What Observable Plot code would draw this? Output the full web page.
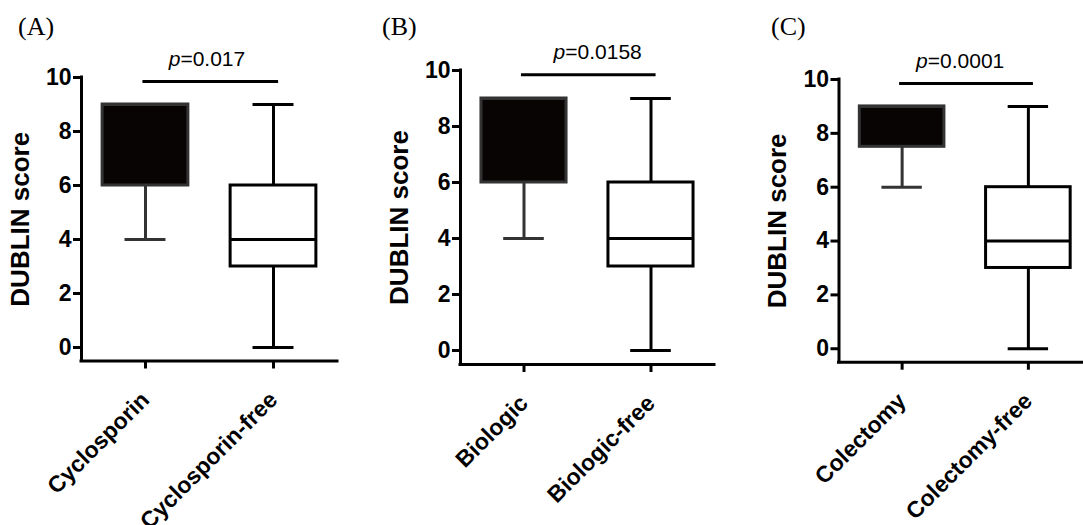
<!DOCTYPE html>
<html><head><meta charset="utf-8">
<script src="https://cdn.jsdelivr.net/npm/d3@7"></script>
<script src="https://cdn.jsdelivr.net/npm/@observablehq/plot@0.6"></script>
<style>
html,body{margin:0;padding:0;background:#fff;}
#wrap{position:relative;width:1083px;height:525px;overflow:hidden;background:#fff;}
.panel{position:absolute;top:0;}
.panel svg{max-width:none !important;}
.tag{position:absolute;font-family:"Liberation Serif","Times New Roman",serif;font-size:26px;line-height:1;color:#000;}
.panel svg g[aria-label^="x-axis"] line, .panel svg g[aria-label^="x-axis"] path,
.panel svg g[aria-label^="y-axis"] line, .panel svg g[aria-label^="y-axis"] path {stroke-width:3px;}
.panel svg g[aria-label="y-axis label"] text {font-size:26px;}
</style>
</head><body><div id="wrap"></div>
<script>
// ---- data ----
const panelTags = ["(A)", "(B)", "(C)"];
const groupsA = ["Cyclosporin", "Cyclosporin-free"];
const groupsB = ["Biologic", "Biologic-free"];
const groupsC = ["Colectomy", "Colectomy-free"];
// five-number summaries per group (min, q1, median, q3, max)
const minA = [4, 0], q1A = [6, 3], medA = [9, 4], q3A = [9, 6], maxA = [9, 9];
const minB = [4, 0], q1B = [6, 3], medB = [9, 4], q3B = [9, 6], maxB = [9, 9];
const minC = [6, 0], q1C = [7.5, 3], medC = [9, 4], q3C = [9, 6], maxC = [9, 9];
const pLabels = ["p=0.017", "p=0.0158", "p=0.0001"];
const pLabelX = [0.48, 0.58, 0.46];
const sigY = [9.85, 9.85, 9.85];
const sigX1 = [-0.02, -0.02, -0.02];
const sigX2 = [1.04, 1.04, 1.04];
const yTicks = [0, 2, 4, 6, 8, 10];
const yLabel = "DUBLIN score";

// ---- layout / style ----
const BOX = 0.335, CAP = 0.16, SW = 3;
const layouts = [
  {left: 0,   width: 360, ml: 81,    mr: 23, mt: 77, mb: 164.5, tag: 18},
  {left: 360, width: 360, ml: 100,   mr: 6,  mt: 70, mb: 161,   tag: 382},
  {left: 720, width: 380, ml: 118.5, mr: 9,  mt: 79, mb: 163.3, tag: 771}
];
const panels = [
  {groups: groupsA, min: minA, q1: q1A, med: medA, q3: q3A, max: maxA},
  {groups: groupsB, min: minB, q1: q1B, med: medB, q3: q3B, max: maxB},
  {groups: groupsC, min: minC, q1: q1C, med: medC, q3: q3C, max: maxC}
];

const wrap = document.getElementById("wrap");
panels.forEach((p, k) => {
  const L = layouts[k];
  const rows = p.groups.map((g, i) => ({i, group: g, min: p.min[i], q1: p.q1[i], med: p.med[i], q3: p.q3[i], max: p.max[i], filled: i === 0}));
  const lineColor = d => d.filled ? "#333" : "#000";
  const plot = Plot.plot({
    width: L.width, height: 525,
    marginLeft: L.ml, marginRight: L.mr, marginTop: L.mt, marginBottom: L.mb,
    style: {fontFamily: "'Liberation Sans', Arial, sans-serif", fontWeight: "bold", fontSize: "23px", color: "#000", background: "transparent", maxWidth: "none"},
    x: {domain: [-0.5, 1.5], ticks: [0, 1], tickFormat: i => p.groups[i], tickRotate: -45, tickSize: 8, tickPadding: 27, label: null},
    y: {domain: [-0.5, 10], ticks: yTicks, tickSize: 8, tickPadding: 2, label: yLabel, labelArrow: "none", labelAnchor: "center", labelOffset: 71},
    marks: [
      Plot.ruleX(rows, {x: "i", y1: "min", y2: "q1", stroke: lineColor, strokeWidth: SW}),
      Plot.ruleX(rows, {x: "i", y1: "q3", y2: "max", stroke: lineColor, strokeWidth: SW}),
      Plot.ruleY(rows, {y: "min", x1: d => d.i - CAP, x2: d => d.i + CAP, stroke: lineColor, strokeWidth: SW}),
      Plot.ruleY(rows, {y: "max", x1: d => d.i - CAP, x2: d => d.i + CAP, stroke: lineColor, strokeWidth: SW}),
      Plot.rect(rows, {x1: d => d.i - BOX, x2: d => d.i + BOX, y1: "q1", y2: "q3", fill: d => d.filled ? "#080404" : "#fff", stroke: lineColor, strokeWidth: SW}),
      Plot.ruleY(rows, {y: "med", x1: d => d.i - BOX, x2: d => d.i + BOX, stroke: lineColor, strokeWidth: SW}),
      Plot.ruleX([-0.5], {y1: -0.5, y2: 10, stroke: "#000", strokeWidth: SW, strokeLinecap: "square"}),
      Plot.ruleY([-0.5], {stroke: "#000", strokeWidth: SW, strokeLinecap: "square"}),
      Plot.ruleY([sigY[k]], {y: d => d, x1: sigX1[k], x2: sigX2[k], stroke: "#000", strokeWidth: SW}),
      Plot.text([pLabels[k]], {x: pLabelX[k], y: sigY[k], text: d => d, dy: -16, lineAnchor: "bottom", fontWeight: "normal", fontSize: 21, fill: "#000"})
    ]
  });
  // italic "p"
  d3.select(plot).selectAll("text").each(function() {
    const t = this.textContent;
    if (t.startsWith("p=")) {
      const sel = d3.select(this);
      sel.text(null);
      sel.append("tspan").attr("font-style", "italic").text("p");
      sel.append("tspan").text(t.slice(1));
    }
  });
  const div = document.createElement("div");
  div.className = "panel";
  div.style.left = L.left + "px";
  div.style.width = L.width + "px";
  div.appendChild(plot);
  wrap.appendChild(div);
  const tag = document.createElement("div");
  tag.className = "tag";
  tag.style.left = L.tag + "px";
  tag.style.top = "14px";
  tag.textContent = panelTags[k];
  wrap.appendChild(tag);
});
</script>
</body></html>
